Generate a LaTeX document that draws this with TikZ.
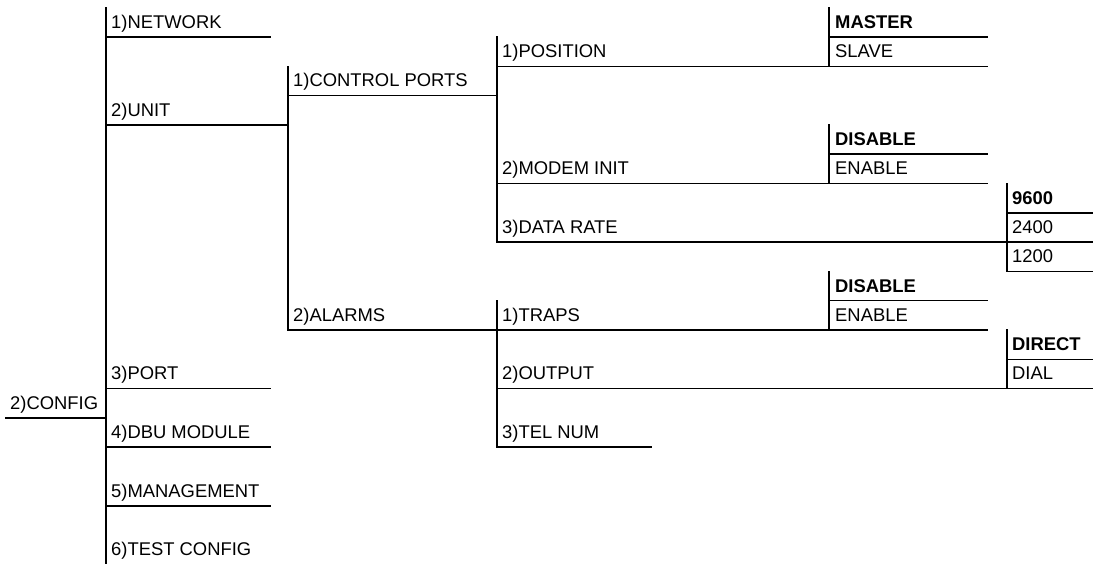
\documentclass[tikz,border=0pt]{standalone}
\usepackage{fontspec}
\setmainfont{Liberation Sans}
\begin{document}
\begin{tikzpicture}[x=1pt,y=-1pt,
  lbl/.style={anchor=base west,inner sep=0pt,font=\fontsize{18.4}{22}\selectfont},
  dflt/.style={lbl,font=\fontsize{18.4}{22}\selectfont\bfseries},
  wire/.style={line width=1.5pt,line cap=rect}]
\useasboundingbox (0,0) rectangle (1093,563);
\newcommand\ry[1]{{37+29.3*(#1)}}
\newcommand\ty[1]{{37+29.3*(#1)-8.7}}
% ---- labels
\node[lbl] (config) at (10,\ty{13}) {2)CONFIG};
\node[lbl] (network) at (111,\ty{0}) {1)NETWORK};
\node[lbl] (unit) at (111,\ty{3}) {2)UNIT};
\node[lbl] (port) at (111,\ty{12}) {3)PORT};
\node[lbl] (dbu) at (111,\ty{14}) {4)DBU MODULE};
\node[lbl] (mgmt) at (111,\ty{16}) {5)MANAGEMENT};
\node[lbl] (test) at (111,\ty{18}) {6)TEST CONFIG};
\node[lbl] (ctrl) at (293,\ty{2}) {1)CONTROL PORTS};
\node[lbl] (alarms) at (293,\ty{10}) {2)ALARMS};
\node[lbl] (pos) at (502,\ty{1}) {1)POSITION};
\node[lbl] (modem) at (502,\ty{5}) {2)MODEM INIT};
\node[lbl] (rate) at (502,\ty{7}) {3)DATA RATE};
\node[lbl] (traps) at (502,\ty{10}) {1)TRAPS};
\node[lbl] (output) at (502,\ty{12}) {2)OUTPUT};
\node[lbl] (tel) at (502,\ty{14}) {3)TEL NUM};
\node[dflt] (master) at (835,\ty{0}) {MASTER};
\node[lbl] (slave) at (835,\ty{1}) {SLAVE};
\node[dflt] (mdis) at (835,\ty{4}) {DISABLE};
\node[lbl] (men) at (835,\ty{5}) {ENABLE};
\node[dflt] (r9600) at (1012,\ty{6}) {9600};
\node[lbl] (r2400) at (1012,\ty{7}) {2400};
\node[lbl] (r1200) at (1012,\ty{8}) {1200};
\node[dflt] (tdis) at (835,\ty{9}) {DISABLE};
\node[lbl] (ten) at (835,\ty{10}) {ENABLE};
\node[dflt] (direct) at (1012,\ty{11}) {DIRECT};
\node[lbl] (dial) at (1012,\ty{12}) {DIAL};
% ---- vertical bars
\draw[wire] (106,7.7) -- (106,563);
\draw[wire] (288,\ry{1}) -- (288,\ry{10});
\draw[wire] (497,\ry{0}) -- (497,\ry{7});
\draw[wire] (497,\ry{9}) -- (497,\ry{14});
\draw[wire] (829,\ry{-1}) -- (829,\ry{1});
\draw[wire] (829,\ry{3}) -- (829,\ry{5});
\draw[wire] (1007,\ry{5}) -- (1007,\ry{8});
\draw[wire] (829,\ry{8}) -- (829,\ry{10});
\draw[wire] (1007,\ry{10}) -- (1007,\ry{12});
% ---- underlines
\draw[wire] (6,\ry{13}) -- (106,\ry{13});
\draw[wire] (106,\ry{0}) -- (270,\ry{0});
\draw[wire] (106,\ry{3}) -- (288,\ry{3});
\draw[wire] (106,\ry{12}) -- (270,\ry{12});
\draw[wire] (106,\ry{14}) -- (270,\ry{14});
\draw[wire] (106,\ry{16}) -- (270,\ry{16});
\draw[wire] (288,\ry{2}) -- (497,\ry{2});
\draw[wire] (288,\ry{10}) -- (497,\ry{10});
\draw[wire] (497,\ry{1}) -- (987,\ry{1});
\draw[wire] (497,\ry{5}) -- (987,\ry{5});
\draw[wire] (497,\ry{7}) -- (1093,\ry{7});
\draw[wire] (497,\ry{10}) -- (987,\ry{10});
\draw[wire] (497,\ry{12}) -- (1093,\ry{12});
\draw[wire] (497,\ry{14}) -- (651,\ry{14});
\draw[wire] (829,\ry{0}) -- (987,\ry{0});
\draw[wire] (829,\ry{4}) -- (987,\ry{4});
\draw[wire] (1007,\ry{6}) -- (1093,\ry{6});
\draw[wire] (1007,\ry{8}) -- (1093,\ry{8});
\draw[wire] (829,\ry{9}) -- (987,\ry{9});
\draw[wire] (1007,\ry{11}) -- (1093,\ry{11});
\end{tikzpicture}
\end{document}
